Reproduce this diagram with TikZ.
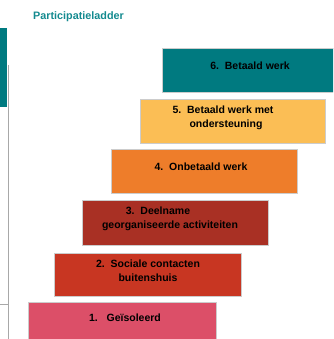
\documentclass[tikz,border=0pt]{standalone}
\usepackage{fontspec}
\setmainfont{Liberation Sans}
\definecolor{tealbox}{HTML}{007A80}
\definecolor{titleteal}{HTML}{138A8F}
\definecolor{amber}{HTML}{FBBE55}
\definecolor{orangebox}{HTML}{EE7D2A}
\definecolor{darkred}{HTML}{A93024}
\definecolor{redbox}{HTML}{C83622}
\definecolor{pinkbox}{HTML}{DC4F68}
\definecolor{edgegray}{HTML}{A8A8A8}
\tikzset{
  rung/.style={draw=white!80!black, line width=0.4pt},
  rungtext/.style={font=\bfseries\fontsize{10.5}{14}\selectfont, align=center, text=black, inner sep=0pt},
}
\begin{document}
\begin{tikzpicture}[x=1pt,y=-1pt]
\useasboundingbox (0,0) rectangle (333,339);
\begin{scope}
\clip (0,0) rectangle (333,339);
% left edge decorations
\fill[tealbox] (0,28) rectangle (7,107);
\draw[edgegray, line width=1pt] (8,65) -- (8,339);
\draw[edgegray, line width=1pt] (0,304) -- (8,304);
% title
\node[anchor=west, font=\bfseries\fontsize{10.8}{13}\selectfont, text=titleteal, inner sep=0pt] (title) at (33,17) {Participatieladder};
% rungs
\fill[rung, fill=tealbox] (162,48) rectangle (334,92);
\fill[rung, fill=amber] (140,99) rectangle (325,143);
\fill[rung, fill=orangebox] (111,149) rectangle (297,193);
\fill[rung, fill=darkred] (82,200) rectangle (268,245);
\fill[rung, fill=redbox] (54,253) rectangle (241,296);
\fill[rung, fill=pinkbox] (28,302) rectangle (216,345);
% labels
\node[rungtext] (r6) at (250,66) {6.\ \ Betaald werk};
\node[rungtext] (r5) at (223,118) {5.\ \ Betaald werk met\\\hspace*{6pt}ondersteuning};
\node[rungtext] (r4) at (201,167) {4.\ \ Onbetaald werk};
\node[rungtext] (r3) at (170,218.5) {3.\ \ Deelname\hspace*{24pt}\\georganiseerde activiteiten};
\node[rungtext] (r2) at (148,271) {2.\ \ Sociale contacten\\buitenshuis};
\node[rungtext] (r1) at (125,318) {1.\ \ \ Geïsoleerd};
\end{scope}
\end{tikzpicture}
\end{document}
